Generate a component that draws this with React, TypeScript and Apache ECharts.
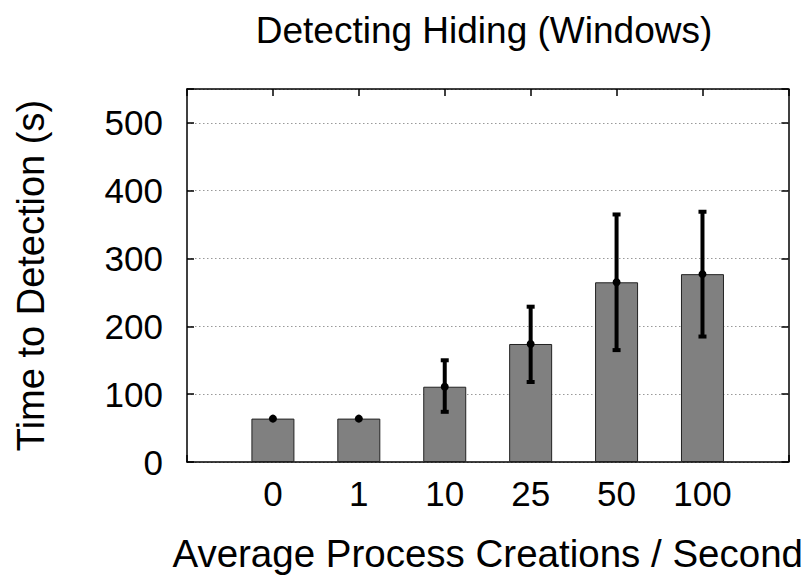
import React, { useEffect, useRef } from "react";
import * as echarts from "echarts";

const categories = ["", "0", "1", "10", "25", "50", "100", ""];
const barValues = ["-", 64, 64, 111, 174, 265, 277, "-"];
const errIndex = [1, 2, 3, 4, 5, 6];
const errMean = [64, 64, 111, 174, 265, 277];
const errLow = [64, 64, 74, 118, 165, 185];
const errHigh = [64, 64, 150, 229, 365, 369];
const yTicks = [0, 100, 200, 300, 400, 500];

const FONT = "'Liberation Sans', Arial, Helvetica, sans-serif";

export default function App() {
  const ref = useRef<HTMLDivElement>(null);
  useEffect(() => {
    if (!ref.current) return;
    const chart = echarts.init(ref.current, null, { renderer: "svg" });
    const errData = errIndex.map((c, i) => [c, errMean[i], errLow[i], errHigh[i]]);
    chart.setOption({
      animation: false,
      backgroundColor: "#ffffff",
      textStyle: { fontFamily: FONT },
      graphic: [
        {
          type: "text",
          x: 484,
          y: 12,
          style: {
            text: "Detecting Hiding (Windows)",
            fontFamily: FONT,
            fontSize: 37,
            fill: "#000",
            align: "center",
            verticalAlign: "top",
          },
        },
      ],
      grid: { left: 187, right: 16, top: 89, bottom: 115 },
      xAxis: [
        {
          type: "category",
          data: categories,
          boundaryGap: false,
          position: "bottom",
          axisLine: { show: true, onZero: false, lineStyle: { color: "#000", width: 1.5 } },
          axisTick: { show: true, interval: 0, inside: true, length: 7, lineStyle: { color: "#000", width: 1.5 } },
          axisLabel: { color: "#000", fontSize: 35, margin: 14, fontFamily: FONT, interval: 0 },
          name: "Average Process Creations / Second",
          nameLocation: "middle",
          nameGap: 72,
          nameTextStyle: { color: "#000", fontSize: 38.5, fontFamily: FONT },
          splitLine: { show: false },
        },
        {
          type: "category",
          data: categories,
          boundaryGap: false,
          position: "top",
          show: true,
          axisLine: { show: true, onZero: false, lineStyle: { color: "#000", width: 1.5 } },
          axisTick: { show: true, interval: 0, inside: true, length: 7, lineStyle: { color: "#000", width: 1.5 } },
          axisLabel: { show: false },
          splitLine: { show: false },
          z: 10,
        },
      ],
      yAxis: [
        {
          type: "value",
          min: 0,
          max: 550,
          interval: 100,
          position: "left",
          axisLine: { show: true, onZero: false, lineStyle: { color: "#000", width: 1.5 } },
          axisTick: { show: true, inside: true, length: 7, lineStyle: { color: "#000", width: 1.5 } },
          axisLabel: {
            color: "#000",
            fontSize: 35,
            margin: 24,
            fontFamily: FONT,
            formatter: (v: number) => (yTicks.indexOf(v) >= 0 ? String(v) : ""),
          },
          name: "Time to Detection (s)",
          nameLocation: "middle",
          nameGap: 137,
          nameTextStyle: { color: "#000", fontSize: 38, fontFamily: FONT },
          splitLine: { show: true, lineStyle: { color: "#999", type: [1.5, 2.5], width: 1 } },
        },
        {
          type: "value",
          min: 0,
          max: 550,
          interval: 100,
          position: "right",
          axisLine: { show: true, onZero: false, lineStyle: { color: "#000", width: 1.5 } },
          axisTick: { show: true, inside: true, length: 7, lineStyle: { color: "#000", width: 1.5 } },
          axisLabel: { show: false },
          splitLine: { show: false },
          z: 10,
        },
      ],
      series: [
        {
          type: "bar",
          xAxisIndex: 0,
          yAxisIndex: 0,
          data: barValues,
          barWidth: 43,
          itemStyle: { color: "#808080", borderColor: "#222", borderWidth: 1 },
          z: 2,
        },
        {
          type: "custom",
          xAxisIndex: 0,
          yAxisIndex: 0,
          data: errData,
          z: 5,
          renderItem: (params: any, api: any) => {
            const x = api.value(0);
            const mid = api.coord([x, api.value(1)]);
            const lo = api.coord([x, api.value(2)]);
            const hi = api.coord([x, api.value(3)]);
            const children: any[] = [];
            if (Math.abs(lo[1] - hi[1]) > 1) {
              children.push({
                type: "line",
                shape: { x1: mid[0], y1: hi[1], x2: mid[0], y2: lo[1] },
                style: { stroke: "#000", lineWidth: 4 },
              });
              children.push({
                type: "rect",
                shape: { x: mid[0] - 4, y: hi[1] - 2, width: 8, height: 4 },
                style: { fill: "#000" },
              });
              children.push({
                type: "rect",
                shape: { x: mid[0] - 4, y: lo[1] - 2, width: 8, height: 4 },
                style: { fill: "#000" },
              });
            }
            children.push({
              type: "circle",
              shape: { cx: mid[0], cy: mid[1], r: 4 },
              style: { fill: "#000" },
            });
            return { type: "group", children };
          },
        },
      ],
    });
    return () => chart.dispose();
  }, []);
  return <div ref={ref} style={{ width: 806, height: 578, position: "absolute", left: 0, top: 0 }} />;
}
